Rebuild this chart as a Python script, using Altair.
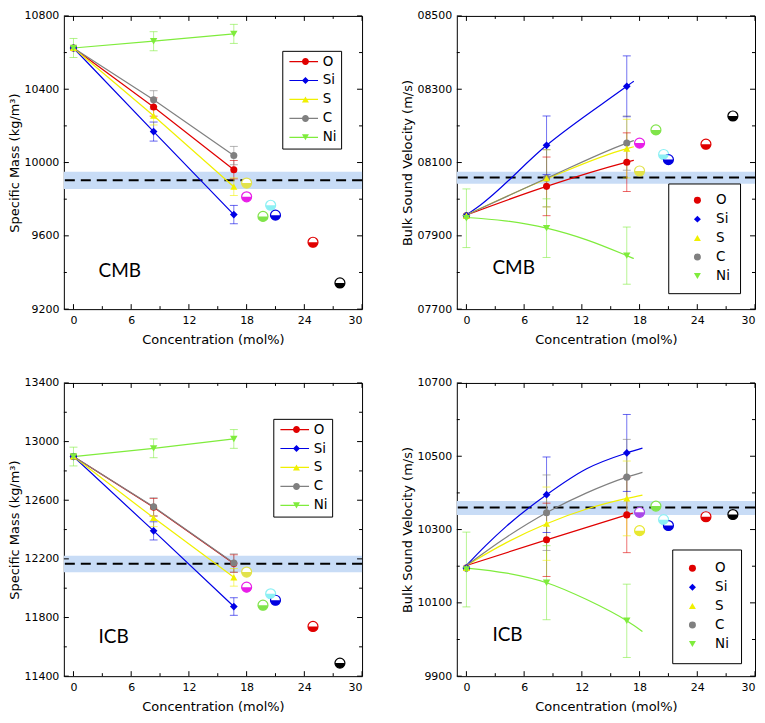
import altair as alt
import pandas as pd

# ---------------- data ----------------
SERIES = ["O", "Si", "S", "C", "Ni"]
SERIES_COLORS = ["#e00000", "#0000e6", "#f0f000", "#808080", "#7fec3c"]
CONC = [0, 8.33, 16.67]

X_MAJOR = [0, 6, 12, 18, 24, 30]
X_MINOR = [3, 9, 15, 21, 27]

# other studies (half-filled circles)
REF_IDS = ["ref1", "ref2", "ref3", "ref4", "ref5", "ref6", "ref7"]
REF_CONC = [18.0, 18.0, 20.5, 19.7, 21.0, 24.9, 27.7]
REF_COLORS = ["#e2e24c", "#e81ee8", "#8cf0f4", "#80e44a", "#0000e0", "#e00000", "#000000"]
REF_COLORS_ICB_VB = ["#e8e830", "#a848e8", "#8cf0f4", "#80e44a", "#0000e0", "#e00000", "#000000"]

# --- CMB specific mass (kg/m3); error bars per series at 0, 8.33, 16.67 mol%
CMB_RHO = {
    "O": [10625, 10303, 9961],
    "Si": [10625, 10169, 9716],
    "S": [10625, 10255, 9868],
    "C": [10625, 10342, 10038],
    "Ni": [10625, 10662, 10702],
}
CMB_RHO_ERR = {"O": [0, 50, 50], "Si": [0, 52, 50], "S": [0, 50, 48],
               "C": [0, 50, 50], "Ni": [52, 52, 52]}
CMB_RHO_REF = [9888, 9813, 9767, 9706, 9713, 9565, 9343]
CMB_RHO_PREM = [9903, 9855, 9950]
CMB_RHO_TICKS = [9200, 9600, 10000, 10400, 10800]
CMB_RHO_MINOR = [9400, 9800, 10200, 10600]

# --- CMB bulk sound velocity (m/s)
CMB_VB = {
    "O": [7955, 8035, 8101],
    "Si": [7955, 8147, 8308],
    "S": [7955, 8057, 8138],
    "C": [7955, 8057, 8153],
    "Ni": [7948, 7921, 7846],
}
CMB_VB_ERR = {"O": [0, 80, 80], "Si": [0, 80, 83], "S": [0, 78, 80],
              "C": [0, 78, 74], "Ni": [80, 80, 78]}
CMB_VB_CURVE_X = {
    "O": [0, 8.33, 16.67, 17.4],
    "Si": [0, 1.5, 8.33, 16.67, 17.4],
    "S": [0, 8.33, 16.67, 17.4],
    "C": [0, 8.33, 16.67, 17.4],
    "Ni": [0, 4, 8.33, 12.5, 16.67, 17.4],
}
CMB_VB_CURVE_Y = {
    "O": [7957, 8035, 8101, 8106],
    "Si": [7957, 7985, 8147, 8308, 8322],
    "S": [7957, 8055, 8138, 8143],
    "C": [7957, 8057, 8153, 8160],
    "Ni": [7950, 7941, 7921, 7889, 7846, 7838],
}
CMB_VB_REF = [8077, 8153, 8122, 8189, 8108, 8150, 8227]
CMB_VB_PREM = [8059, 8042, 8075]
CMB_VB_TICKS = [7700, 7900, 8100, 8300, 8500]
CMB_VB_MINOR = [7800, 8000, 8200, 8400]

# --- ICB specific mass (kg/m3)
ICB_RHO = {
    "O": [12898, 12552, 12168],
    "Si": [12898, 12391, 11875],
    "S": [12898, 12480, 12074],
    "C": [12898, 12555, 12172],
    "Ni": [12898, 12954, 13018],
}
ICB_RHO_ERR = {"O": [0, 60, 60], "Si": [0, 62, 60], "S": [0, 60, 60],
               "C": [0, 62, 62], "Ni": [64, 64, 64]}
ICB_RHO_REF = [12110, 12007, 11962, 11884, 11918, 11739, 11489]
ICB_RHO_PREM = [12166, 12108, 12222]
ICB_RHO_TICKS = [11400, 11800, 12200, 12600, 13000, 13400]
ICB_RHO_MINOR = [11600, 12000, 12400, 12800, 13200]

# --- ICB bulk sound velocity (m/s)
ICB_VB = {
    "O": [10195, 10272, 10340],
    "Si": [10195, 10395, 10509],
    "S": [10195, 10316, 10385],
    "C": [10195, 10346, 10443],
    "Ni": [10191, 10155, 10051],
}
ICB_VB_ERR = {"O": [0, 100, 103], "Si": [0, 103, 105], "S": [0, 100, 102],
              "C": [0, 103, 103], "Ni": [102, 101, 100]}
ICB_VB_CURVE_X = {
    "O": [0, 8.33, 16.67, 17.3],
    "Si": [0, 2, 4.2, 8.33, 12.5, 16.67, 18.3],
    "S": [0, 4.2, 8.33, 12.5, 16.67, 18.3],
    "C": [0, 4.2, 8.33, 12.5, 16.67, 18.3],
    "Ni": [0, 4.2, 8.33, 12.5, 16.67, 18.3],
}
ICB_VB_CURVE_Y = {
    "O": [10202, 10272, 10340, 10345],
    "Si": [10202, 10256, 10310, 10395, 10466, 10509, 10522],
    "S": [10202, 10265, 10316, 10356, 10385, 10394],
    "C": [10202, 10280, 10346, 10400, 10443, 10456],
    "Ni": [10195, 10181, 10155, 10109, 10051, 10022],
}
ICB_VB_REF = [10297, 10347, 10327, 10364, 10311, 10335, 10341]
ICB_VB_PREM = [10360, 10340, 10378]
ICB_VB_TICKS = [9900, 10100, 10300, 10500, 10700]
ICB_VB_MINOR = [10000, 10200, 10400, 10600]

# ---------------- style ----------------
W, H = 299, 294
FONT = "DejaVu Sans"
BUILTIN_SHAPES = ["circle", "diamond", "triangle-up", "circle", "triangle-down"]
LINE = "M-4.6,-0.17H3.6V0.17H-4.6Z"
LINE_SHAPES = [
    LINE + "M-1,0A1,1,0,1,1,1,0A1,1,0,1,1,-1,0Z",
    LINE + "M-1,0L0,-1L1,0L0,1Z",
    LINE + "M0,-0.866L1,0.866L-1,0.866Z",
    LINE + "M-1,0A1,1,0,1,1,1,0A1,1,0,1,1,-1,0Z",
    LINE + "M0,0.866L-1,-0.866L1,-0.866Z",
]
HALF = "M-1,0A1,1,0,0,0,1,0Z"
SHAPE_GROUPS = [(["O", "C"], "circle", 50), (["Si"], "diamond", 60),
                (["S"], "triangle-up", 50), (["Ni"], "triangle-down", 55)]


def panel(vals, errs, ref_vals, ref_colors, prem, ydom, ymaj, ymin, ytitle, yfmt,
          tag, tag_xy, legend_pos, legend_opts, line_legend, curves=None):
    xs = alt.Scale(domain=[-1, 30], nice=False, zero=False)
    ys = alt.Scale(domain=ydom, nice=False, zero=False)
    xaxis = alt.Axis(values=X_MAJOR, format="d", ticks=False, domain=False, grid=False,
                     labelFont=FONT, labelFontSize=11, labelColor="black", labelPadding=5,
                     title="Concentration (mol%)", titleFont=FONT, titleFontSize=13,
                     titleFontWeight="normal", titleColor="black", titlePadding=8)
    yaxis = alt.Axis(values=ymaj, format=yfmt, ticks=False, domain=False, grid=False,
                     labelFont=FONT, labelFontSize=11, labelColor="black", labelPadding=5,
                     title=ytitle, titleFont=FONT, titleFontSize=13,
                     titleFontWeight="normal", titleColor="black", titlePadding=2)
    X = alt.X("x:Q", scale=xs, axis=xaxis)
    Y = alt.Y("y:Q", scale=ys, axis=yaxis)
    cscale = alt.Scale(domain=SERIES, range=SERIES_COLORS)
    leg = alt.Legend(title=None, orient="none", legendX=legend_pos[0], legendY=legend_pos[1],
                     strokeColor="black", fillColor="white", labelFont=FONT, labelFontSize=13.5,
                     labelColor="black", symbolSize=49, symbolStrokeWidth=0, symbolOpacity=1,
                     rowPadding=4, **legend_opts)
    C = alt.Color("s:N", scale=cscale, legend=leg)

    rows = []
    for s in SERIES:
        for i, c in enumerate(CONC):
            rows.append({"s": s, "x": c, "y": vals[s][i], "e": errs[s][i],
                         "lo": vals[s][i] - errs[s][i], "hi": vals[s][i] + errs[s][i]})
    pts = pd.DataFrame(rows)

    if curves is None:
        cdf = pts[["s", "x", "y"]]
        interp = "linear"
    else:
        cx, cy = curves
        cdf = pd.DataFrame([{"s": s, "x": a, "y": b}
                            for s in SERIES for a, b in zip(cx[s], cy[s])])
        interp = "monotone"

    prem_df = pd.DataFrame({"y": [prem[0]], "lo": [prem[1]], "hi": [prem[2]]})
    ref_df = pd.DataFrame({"r": REF_IDS, "x": REF_CONC, "y": ref_vals})
    rscale = alt.Scale(domain=REF_IDS, range=ref_colors)

    layers = []
    layers.append(alt.Chart(prem_df).mark_rect(color="#c8dcf6").encode(
        y=alt.Y("lo:Q", scale=ys, axis=yaxis), y2="hi:Q", x=alt.value(0), x2=alt.value(W)))
    layers.append(alt.Chart(prem_df).mark_rule(color="black", strokeWidth=2, strokeDash=[10, 6]).encode(y=Y))

    ebase = alt.Chart(pts).transform_filter("datum.e > 0")
    layers.append(ebase.mark_rule(strokeWidth=1, opacity=0.55).encode(
        x=X, y=alt.Y("lo:Q", scale=ys, axis=yaxis), y2="hi:Q", color=C))
    for fld in ("lo", "hi"):
        layers.append(ebase.mark_tick(orient="horizontal", size=8, thickness=1, opacity=0.6).encode(
            x=X, y=alt.Y(f"{fld}:Q", scale=ys, axis=yaxis), color=C))

    layers.append(alt.Chart(cdf).mark_line(strokeWidth=1.2, interpolate=interp).encode(
        x=X, y=Y, color=C))

    for members, shp, sz in SHAPE_GROUPS:
        layers.append(alt.Chart(pts).transform_filter(
            alt.FieldOneOfPredicate(field="s", oneOf=members)).mark_point(
            shape=shp, filled=True, size=sz, opacity=1).encode(x=X, y=Y, color=C))

    layers.append(alt.Chart(ref_df).mark_point(shape="circle", filled=True, fill="white", size=100,
                                               strokeWidth=1.2, opacity=1).encode(
        x=X, y=Y, stroke=alt.Stroke("r:N", scale=rscale, legend=None)))
    layers.append(alt.Chart(ref_df).mark_point(shape=HALF, filled=True, size=100, opacity=1,
                                               strokeWidth=0).encode(
        x=X, y=Y, fill=alt.Fill("r:N", scale=rscale, legend=None)))

    tag_df = pd.DataFrame({"t": [tag], "x": [tag_xy[0]], "y": [tag_xy[1]]})
    layers.append(alt.Chart(tag_df).mark_text(font="Lato", fontSize=19, align="left",
                                              baseline="alphabetic", color="black").encode(
        x=X, y=Y, text="t:N"))

    leg_df = pd.DataFrame({"s": SERIES, "x": [-10] * 5, "y": [ydom[0]] * 5})
    layers.append(alt.Chart(leg_df).mark_point(filled=True, size=49, opacity=1, clip=True).encode(
        x=X, y=Y, color=C,
        shape=alt.Shape("s:N", scale=alt.Scale(domain=SERIES,
                                               range=LINE_SHAPES if line_legend else BUILTIN_SHAPES),
                        legend=leg)))

    # inward ticks on all four sides
    for vals_t, L in ((X_MAJOR, 5), (X_MINOR, 3)):
        tdf = pd.DataFrame({"t": vals_t})
        tx = alt.X("t:Q", scale=xs, axis=xaxis)
        layers.append(alt.Chart(tdf).mark_rule(color="black").encode(x=tx, y=alt.value(H), y2=alt.value(H - L)))
        layers.append(alt.Chart(tdf).mark_rule(color="black").encode(x=tx, y=alt.value(0), y2=alt.value(L)))
    for vals_t, L in ((ymaj, 5), (ymin, 3)):
        tdf = pd.DataFrame({"t": vals_t})
        ty = alt.Y("t:Q", scale=ys, axis=yaxis)
        layers.append(alt.Chart(tdf).mark_rule(color="black").encode(y=ty, x=alt.value(0), x2=alt.value(L)))
        layers.append(alt.Chart(tdf).mark_rule(color="black").encode(y=ty, x=alt.value(W), x2=alt.value(W - L)))

    return alt.layer(*layers).properties(width=W, height=H)


LEG_LINE = dict(padding=4, symbolOffset=12.5, labelOffset=10.5)
p1 = panel(CMB_RHO, CMB_RHO_ERR, CMB_RHO_REF, REF_COLORS, CMB_RHO_PREM, [9200, 10800],
           CMB_RHO_TICKS, CMB_RHO_MINOR, "Specific Mass (kg/m³)", "d",
           "CMB", (2.6, 9378), (219, 35), LEG_LINE, True)
p2 = panel(CMB_VB, CMB_VB_ERR, CMB_VB_REF, REF_COLORS, CMB_VB_PREM, [7700, 8500],
           CMB_VB_TICKS, CMB_VB_MINOR, "Bulk Sound Velocity (m/s)", "05d",
           "CMB", (2.7, 7797), (212, 168),
           dict(padding=10, symbolOffset=12.5, labelOffset=12), False,
           curves=(CMB_VB_CURVE_X, CMB_VB_CURVE_Y))
p3 = panel(ICB_RHO, ICB_RHO_ERR, ICB_RHO_REF, REF_COLORS, ICB_RHO_PREM, [11400, 13400],
           ICB_RHO_TICKS, ICB_RHO_MINOR, "Specific Mass (kg/m³)", "d",
           "ICB", (2.6, 11628), (210, 36), LEG_LINE, True)
p4 = panel(ICB_VB, ICB_VB_ERR, ICB_VB_REF, REF_COLORS_ICB_VB, ICB_VB_PREM, [9900, 10700],
           ICB_VB_TICKS, ICB_VB_MINOR, "Bulk Sound Velocity (m/s)", "d",
           "ICB", (2.7, 9997), (216, 167),
           dict(padding=12, symbolOffset=1.5, labelOffset=16), False,
           curves=(ICB_VB_CURVE_X, ICB_VB_CURVE_Y))

chart = alt.concat(p1, p2, p3, p4, columns=2,
                   spacing=alt.RowColnumber(row=29, column=37)).resolve_scale(
    color="independent", shape="independent", fill="independent", stroke="independent"
).properties(padding=0).configure_view(stroke="black", strokeWidth=1)

chart.save("out.html", embed_options={"renderer": "svg", "actions": False})
